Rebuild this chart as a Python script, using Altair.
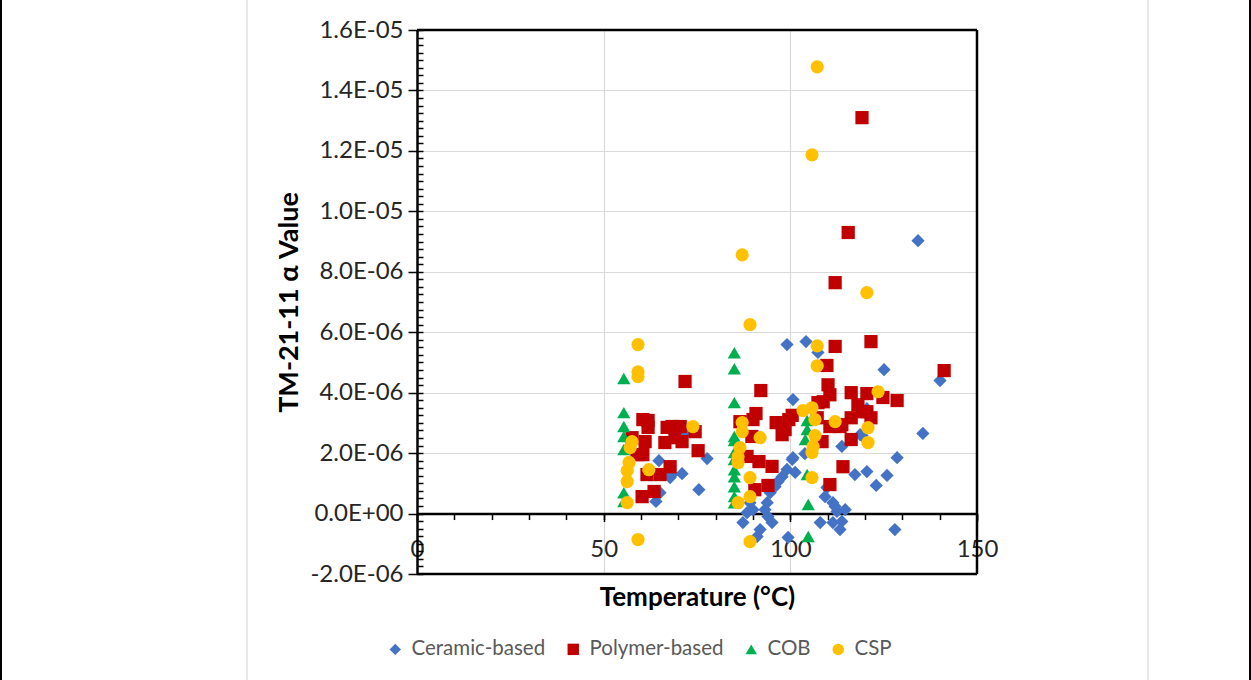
import altair as alt
import pandas as pd

# ---------------- data (alpha values in units of 1e-6) ----------------
ceramic_temp = [64.0, 65.1, 64.8, 67.8, 68.3, 71.0, 77.7, 75.5, 72.1,
                87.3, 88.4, 89.2, 90.0, 91.1, 91.9, 93.2, 93.8, 94.0, 95.1, 94.6,
                95.9, 96.7, 97.8, 99.1, 100.5, 100.7, 99.4, 99.1, 104.2, 107.4,
                100.7, 101.3, 103.9, 108.0, 109.8, 109.3, 111.4, 112.5, 114.7, 111.4,
                113.8, 113.3, 113.8, 118.7, 117.3, 120.5, 125.1, 140.1, 135.5, 119.2,
                128.6, 125.9, 123.0, 128.0, 134.2, 120.5, 112.0]
ceramic_alpha = [0.40, 0.69, 1.75, 1.19, 1.29, 1.32, 1.82, 0.79, 2.68,
                 -0.30, 0.03, 0.36, 0.13, -0.76, -0.53, 0.13, 0.36, -0.10, -0.30, 0.69,
                 0.89, 1.06, 1.22, 1.46, 1.79, 3.77, -0.79, 5.59, 5.69, 5.33,
                 1.85, 1.36, 1.98, -0.30, 0.86, 0.56, 0.36, 0.07, 0.13, -0.30,
                 -0.26, -0.53, 2.22, 2.61, 1.29, 1.39, 4.76, 4.40, 2.65, 2.58,
                 1.85, 1.26, 0.93, -0.53, 9.03, 3.47, 0.23]

polymer_temp = [119.2, 115.5, 112.0, 112.0, 121.6, 109.8, 141.2, 116.3, 120.5, 124.8,
                128.6, 118.1, 119.2, 120.5, 116.3, 121.6, 113.8, 116.3, 114.1, 110.1,
                110.6, 108.8, 107.4, 100.5, 107.2, 110.6, 113.3, 108.5, 110.6, 92.1,
                90.8, 90.0, 86.5, 96.2, 99.6, 97.8, 98.6, 89.7, 88.4, 91.6,
                95.1, 94.0, 90.5, 71.8, 60.5, 61.9, 61.9, 57.6, 61.1, 60.5,
                58.9, 67.0, 68.3, 70.5, 66.4, 69.1, 71.0, 74.5, 75.3, 61.6,
                65.1, 67.8, 63.5, 60.3]
polymer_alpha = [13.10, 9.30, 7.64, 5.53, 5.69, 4.90, 4.73, 4.00, 3.97, 3.84,
                 3.74, 3.60, 3.37, 3.37, 3.17, 3.17, 2.94, 2.45, 1.55, 4.26,
                 3.93, 3.70, 3.67, 3.25, 3.17, 2.88, 2.88, 2.38, 0.96, 4.07,
                 3.31, 3.11, 3.04, 3.01, 3.11, 2.61, 2.78, 2.55, 1.89, 1.72,
                 1.56, 0.93, 0.79, 4.37, 3.11, 3.08, 2.85, 2.51, 2.38, 1.95,
                 1.95, 2.85, 2.88, 2.88, 2.35, 2.51, 2.38, 2.71, 2.08, 1.29,
                 1.29, 1.55, 0.73, 0.56]

cob_temp = [55.4, 55.4, 55.4, 55.4, 55.4, 55.4, 55.4,
            85.0, 85.0, 85.0, 85.0, 85.0, 85.0, 85.0, 85.0, 85.0, 85.0, 85.0, 85.0,
            104.5, 104.5, 104.0, 104.5, 104.8, 104.8]
cob_alpha = [4.47, 3.34, 2.88, 2.55, 2.12, 0.69, 0.40,
             5.32, 4.79, 3.67, 2.55, 2.42, 2.02, 1.79, 1.45, 1.22, 0.89, 0.56, 0.36,
             3.08, 2.78, 2.45, 1.29, 0.30, -0.76]

csp_temp = [107.2, 105.8, 87.1, 89.2, 120.5, 59.2, 59.2, 59.2, 107.2, 107.2,
            123.5, 120.8, 120.8, 112.0, 103.4, 105.8, 106.6, 106.6, 106.1, 105.8,
            105.8, 91.9, 87.1, 87.1, 86.5, 86.0, 86.0, 89.2, 89.2, 86.0,
            89.2, 57.6, 57.1, 56.8, 56.3, 56.3, 56.3, 62.1, 73.9, 59.2]
csp_alpha = [14.78, 11.87, 8.56, 6.25, 7.31, 5.59, 4.69, 4.53, 5.55, 4.89,
             4.03, 2.84, 2.35, 3.04, 3.41, 3.50, 3.11, 2.58, 2.22, 2.02,
             1.19, 2.51, 3.01, 2.71, 2.18, 1.88, 1.69, 1.19, 0.56, 0.36,
             -0.93, 2.38, 2.18, 1.69, 1.42, 1.06, 0.36, 1.45, 2.88, -0.86]

series_names = ["Ceramic-based", "Polymer-based", "COB", "CSP"]
series_colors = ["#4472C4", "#C00000", "#00B050", "#FFC000"]
series_shapes = ["diamond", "square", "triangle-up", "circle"]

y_major = [v * 1e-6 for v in range(-2, 17, 2)]
y_minor = [v * 0.25e-6 for v in range(-8, 65)]
x_major = [0, 50, 100, 150]
x_minor = list(range(0, 151, 10))

rows = []
for i, (name, tx, ay) in enumerate(zip(
        series_names,
        [ceramic_temp, polymer_temp, cob_temp, csp_temp],
        [ceramic_alpha, polymer_alpha, cob_alpha, csp_alpha])):
    for t, a in zip(tx, ay):
        rows.append({"temp": t, "alpha": a * 1e-6, "series": name, "ord": i})
df = pd.DataFrame(rows)

W, H = 560, 544
ZERO_OFF = -H * 2 / 18  # x axis sits at alpha = 0

FONT = "Lato"
E = "floor(log(abs(datum.value))/LN10+1e-9)"
label_expr = (f"datum.value == 0 ? '0.0E+00' : (datum.value < 0 ? '-' : '') + "
              f"format(abs(datum.value)/pow(10,{E}),'.1f') + 'E' + "
              f"({E} < 0 ? '-' : '+') + (abs({E}) < 10 ? '0' : '') + abs({E})")

xscale = alt.Scale(domain=[0, 150], nice=False, zero=False)
yscale = alt.Scale(domain=[-2e-6, 1.6e-5], nice=False, zero=False)

legend = alt.Legend(orient="none", legendX=-32, legendY=609, direction="horizontal",
                    title=None, labelFont=FONT, labelFontSize=20.5, labelColor="#595959",
                    symbolSize=130, columnPadding=17, labelOffset=6, padding=0,
                    symbolStrokeWidth=0)

points = alt.Chart(df).mark_point(filled=True, opacity=1, strokeWidth=0).encode(
    x=alt.X("temp:Q", scale=xscale, axis=alt.Axis(
        orient="bottom", values=x_major, offset=ZERO_OFF, title="Temperature (°C)",
        titleFont=FONT, titleFontSize=26, titleFontWeight="bold", titleColor="#000000",
        titlePadding=23, labelFont=FONT, labelFontSize=24, labelColor="#262626",
        labelPadding=16, tickSize=8, tickColor="#000000", tickWidth=1.5,
        domainColor="#000000", domainWidth=2.5, grid=True, gridColor="#d9d9d9",
        gridWidth=1.2, labelFlush=False)),
    y=alt.Y("alpha:Q", scale=yscale, axis=alt.Axis(
        orient="left", values=y_major, labelExpr=label_expr, title="TM-21-11 α Value",
        titleFont=FONT, titleFontSize=27, titleFontWeight="bold", titleColor="#000000",
        titlePadding=6, labelFont=FONT, labelFontSize=24, labelColor="#262626",
        labelPadding=5, tickSize=9, tickColor="#000000", tickWidth=1.5,
        domainColor="#000000", domainWidth=2.5, grid=True, gridColor="#d9d9d9",
        gridWidth=1.2, labelFlush=False)),
    color=alt.Color("series:N", scale=alt.Scale(domain=series_names, range=series_colors),
                    legend=legend),
    shape=alt.Shape("series:N", scale=alt.Scale(domain=series_names, range=series_shapes),
                    legend=legend),
    size=alt.value(175),
    order=alt.Order("ord:Q"),
)

minor = alt.Chart(df).mark_point(opacity=0).encode(
    x=alt.X("temp:Q", scale=xscale, axis=alt.Axis(
        orient="bottom", values=x_minor, offset=ZERO_OFF, title=None, labels=False,
        domain=False, grid=False, tickSize=6, tickColor="#000000", tickWidth=1.5)),
    y=alt.Y("alpha:Q", scale=yscale, axis=alt.Axis(
        orient="left", values=y_minor, offset=-6, title=None, labels=False,
        domain=False, grid=False, tickSize=6, tickColor="#000000", tickWidth=1.5)),
)

one = pd.DataFrame({"k": [0]})
# plot-area frame (top, right, bottom) drawn above the gridlines
frame_top = alt.Chart(one).mark_rule(color="#000000", strokeWidth=2.5).encode(
    x=alt.value(0), x2=alt.value(W), y=alt.value(0))
frame_right = alt.Chart(one).mark_rule(color="#000000", strokeWidth=2.5).encode(
    x=alt.value(W), y=alt.value(0), y2=alt.value(H))
frame_bottom = alt.Chart(one).mark_rule(color="#000000", strokeWidth=2.5).encode(
    x=alt.value(0), x2=alt.value(W), y=alt.value(H))
# outer chart frame decorations
frame_gray = alt.Chart(one).mark_rule(color="#d0d0d0", strokeWidth=1).encode(
    x=alt.value(-170), y=alt.value(-30), y2=alt.value(650))
frame_gray2 = alt.Chart(one).mark_rule(color="#d0d0d0", strokeWidth=1).encode(
    x=alt.value(731), y=alt.value(-30), y2=alt.value(650))
edge_l = alt.Chart(one).mark_rule(color="#000000", strokeWidth=2).encode(
    x=alt.value(-416), y=alt.value(-30), y2=alt.value(650))
edge_r = alt.Chart(one).mark_rule(color="#000000", strokeWidth=2).encode(
    x=alt.value(833), y=alt.value(-30), y2=alt.value(650))

chart = alt.layer(frame_gray, frame_gray2, edge_l, edge_r, minor, points,
                  frame_top, frame_right, frame_bottom).resolve_axis(
    x="independent", y="independent"
).properties(
    width=W, height=H, autosize=alt.AutoSizeParams(type="none"),
    padding={"left": 417, "top": 30, "right": 274, "bottom": 106},
).configure_view(stroke=None).configure(background="#ffffff")

chart.save("out.html", embed_options={"renderer": "svg", "actions": False})
